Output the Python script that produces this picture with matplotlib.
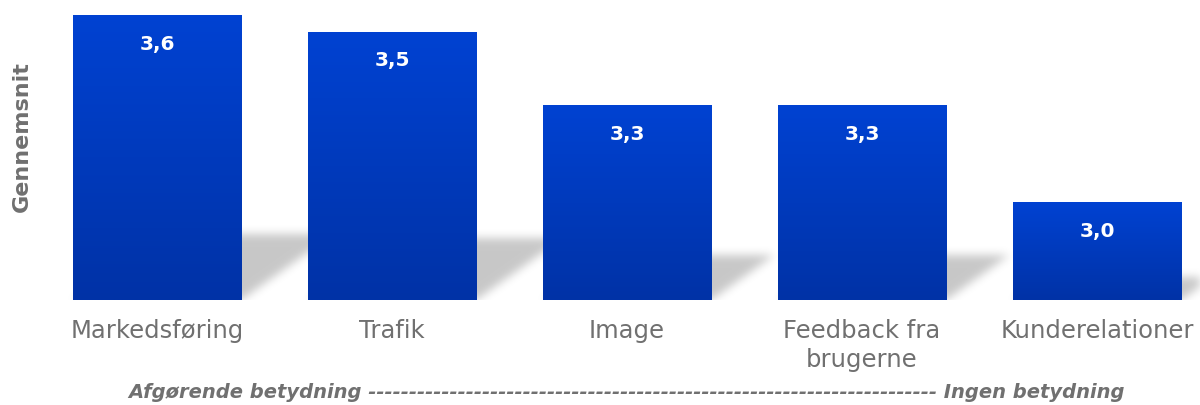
import matplotlib
matplotlib.use('Agg')
import matplotlib.pyplot as plt
import numpy as np
from matplotlib.path import Path
from matplotlib.colors import LinearSegmentedColormap

categories = ['Markedsføring', 'Trafik', 'Image', 'Feedback fra\nbrugerne', 'Kunderelationer']
values = [3.60, 3.546, 3.31, 3.31, 3.00]
labels = ['3,6', '3,5', '3,3', '3,3', '3,0']

ymin, ymax = 2.686, 3.648
grey = '#707070'
plt.rcParams['font.family'] = 'DejaVu Sans'

fig = plt.figure(figsize=(12, 4.05), dpi=100)
W, H = 1137, 300
ax = fig.add_axes([63/1200, 105/405, W/1200, H/405])
xlim = (-0.4, -0.4 + W/235)
ax.set_xlim(xlim)
ax.set_ylim(ymin, ymax)

x = np.arange(len(values))
width = 0.715

# blurred perspective shadows behind the bars
xs = xlim[0] + (np.arange(W) + 0.5) * (xlim[1] - xlim[0]) / W
ys = ymin + (np.arange(H) + 0.5) * (ymax - ymin) / H
XX, YY = np.meshgrid(xs, ys)
pts = np.column_stack([XX.ravel(), YY.ravel()])
mask = np.zeros(XX.size)
for xi, v in zip(x, values):
    h = v - ymin
    x0, x1 = xi - width/2, xi + width/2
    d = 0.43 * h
    top = ymin + 0.23 * h
    poly = Path([(x0, ymin - 0.05), (x1, ymin - 0.05), (x1, ymin), (x1 + d, top), (x0 + d, top), (x0, ymin)])
    mask = np.maximum(mask, poly.contains_points(pts).astype(float))
mask = mask.reshape(H, W)
sig = 4.5
k = np.exp(-0.5 * (np.arange(-14, 15) / sig) ** 2)
k /= k.sum()
mask = np.apply_along_axis(lambda r: np.convolve(r, k, mode='same'), 1, mask)
mask = np.apply_along_axis(lambda c: np.convolve(c, k, mode='same'), 0, mask)
shadow = np.zeros((H, W, 4))
shadow[..., 3] = 0.22 * mask
ax.imshow(shadow, extent=(xlim[0], xlim[1], ymin, ymax), origin='lower',
          aspect='auto', zorder=1, interpolation='nearest')

bars = ax.bar(x, values, width=width, color='#0034aa', zorder=2)
cmap = LinearSegmentedColormap.from_list('blu', ['#0032a6', '#0042d2'])
grad = np.linspace(0, 1, 256).reshape(-1, 1)
for b, v in zip(bars, values):
    x0 = b.get_x()
    im = ax.imshow(grad, extent=(x0, x0 + width, ymin, v), origin='lower',
                   cmap=cmap, aspect='auto', zorder=3)
    im.set_clip_path(b)

for xi, v, lab in zip(x, values, labels):
    ax.annotate(lab, (xi, v), xytext=(0, -21), textcoords='offset points',
                ha='center', va='center', color='white', fontsize=14.5,
                fontweight='bold', zorder=4)

ax.set_xlim(xlim)
ax.set_ylim(ymin, ymax)
ax.set_xticks(x, categories)
ax.tick_params(axis='x', length=0, pad=14, labelsize=17.5, labelcolor=grey)
for t in ax.get_xticklabels():
    t.set_linespacing(1.25)
ax.set_yticks([])
for s in ax.spines.values():
    s.set_visible(False)

fig.text(22/1200, 1 - 137/405, 'Gennemsnit', rotation=90, ha='center', va='center',
         fontsize=16, fontweight='bold', color=grey)
fig.text(627/1200, 1 - 393/405, 'Afgørende betydning ' + '-' * 70 + ' Ingen betydning',
         ha='center', va='center', fontsize=14, fontweight='bold', fontstyle='italic',
         color=grey)

fig.savefig('out.png', dpi=100)
